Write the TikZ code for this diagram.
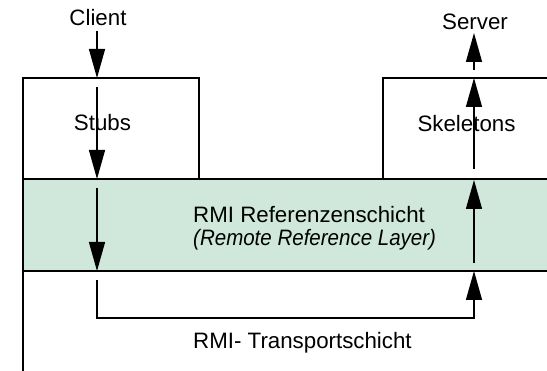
\documentclass[tikz,border=0pt]{standalone}
\usepackage{fontspec}
\usepackage{graphicx}
\setmainfont{Liberation Sans}
\usetikzlibrary{arrows.meta}
\definecolor{layergreen}{RGB}{207,232,219}
\begin{document}
\begin{tikzpicture}[x=1pt,y=-1pt,
  frame/.style={line width=1.5pt,draw=black},
  flow/.style={line width=1.4pt,-{Triangle[length=29pt,width=16pt]}},
  lbl/.style={font=\fontsize{22.3}{23.5}\selectfont,inner sep=0pt}]
\useasboundingbox (0,0) rectangle (547,371);
\begin{scope}
\clip (0,0) rectangle (547,371);
% layer band
\fill[layergreen] (23,179) rectangle (560,271);
\draw[frame] (23,179) -- (560,179);
\draw[frame] (23,271) -- (560,271);
% stubs box
\draw[frame] (23,371) -- (23,78) -- (199,78) -- (199,179);
% skeletons box
\draw[frame] (383,179) -- (383,78) -- (560,78);
\end{scope}
% labels
\node[lbl] (client) at (98,18) {Client};
\node[lbl] (server) at (475,22) {Server};
\node[lbl] (stubs) at (102.5,123) {Stubs};
\node[lbl] (skel) at (466.5,124) {Skeletons};
\node[lbl,align=left,anchor=west] (rmi) at (193,228) {RMI Referenzenschicht\\\scalebox{0.92}[1]{\itshape(Remote Reference Layer)}};
\node[lbl,anchor=west] (trans) at (193,343) {RMI- Transportschicht};
% coordinates
\coordinate (a0) at (97,31);  \coordinate (a1) at (97,78);
\coordinate (b0) at (97,87);  \coordinate (b1) at (97,179);
\coordinate (c0) at (97,188); \coordinate (c1) at (97,271);
\coordinate (d0) at (97,280); \coordinate (d1) at (97,318);
\coordinate (d2) at (474,318); \coordinate (d3) at (474,271);
\coordinate (e0) at (474,263); \coordinate (e1) at (474,180);
\coordinate (f0) at (474,169); \coordinate (f1) at (474,78);
\coordinate (g0) at (474,70);  \coordinate (g1) at (474,33);
\draw[flow] (a0) -- (a1);
\draw[flow] (b0) -- (b1);
\draw[flow] (c0) -- (c1);
\draw[flow] (d0) -- (d1) -- (d2) -- (d3);
\draw[flow] (e0) -- (e1);
\draw[flow] (f0) -- (f1);
\draw[flow] (g0) -- (g1);
\end{tikzpicture}
\end{document}
